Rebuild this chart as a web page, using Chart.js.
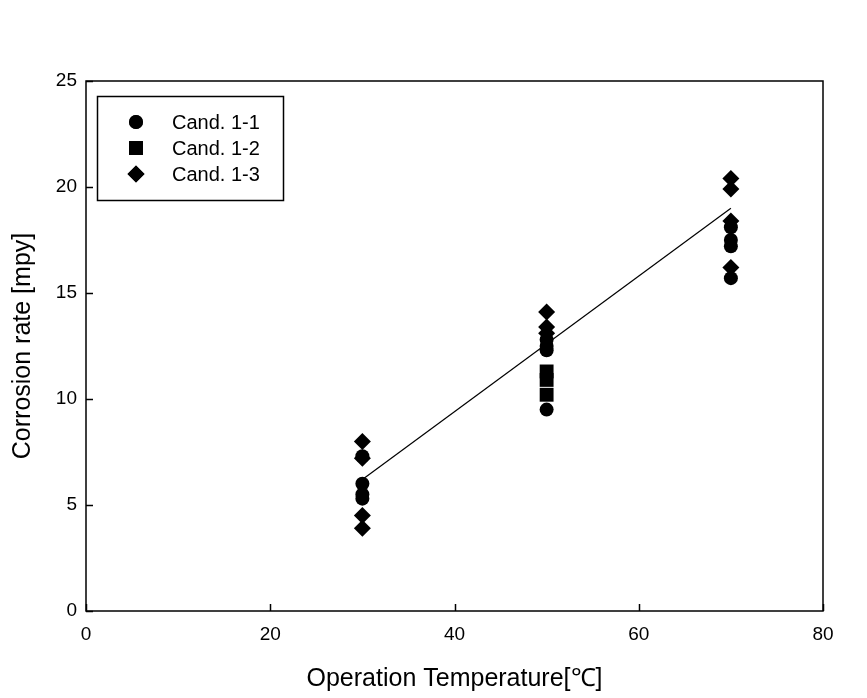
<!DOCTYPE html>
<html>
<head>
<meta charset="utf-8">
<script src="https://cdn.jsdelivr.net/npm/chart.js@4/dist/chart.umd.min.js"></script>
<style>
  html, body { margin: 0; padding: 0; background: #fff; }
  #wrap { width: 867px; height: 698px; position: relative; }
</style>
</head>
<body>
<div id="wrap"><canvas id="corrosionChart"></canvas></div>
<script>
// Corrosion rate vs. operation temperature
const xTicks = [0, 20, 40, 60, 80];
const yTicks = [0, 5, 10, 15, 20, 25];

const cand11Temp = [30, 30, 30, 30, 50, 50, 50, 50, 70, 70, 70, 70];
const cand11Rate = [7.3, 6.0, 5.5, 5.3, 12.8, 12.5, 12.3, 9.5, 18.1, 17.5, 17.2, 15.7];

const cand12Temp = [50, 50, 50];
const cand12Rate = [11.3, 10.9, 10.2];

const cand13Temp = [30, 30, 30, 30, 50, 50, 50, 70, 70, 70, 70];
const cand13Rate = [8.0, 7.2, 4.5, 3.9, 14.1, 13.4, 13.1, 20.4, 19.9, 18.4, 16.2];

const fitTemp = [30, 70];
const fitRate = [6.2, 19.0];

const legendLabels = ['Cand. 1-1', 'Cand. 1-2', 'Cand. 1-3'];

const FONT = '"Liberation Sans", Arial, sans-serif';

function toPoints(xs, ys) {
    return xs.map((x, i) => ({ x: x, y: ys[i] }));
}

const markerStyles = [
    { pointStyle: 'circle', radius: 7 },
    { pointStyle: 'rect', radius: 9.8 },
    { pointStyle: 'rectRot', radius: 8.5 }
];

// frame, inward ticks and the boxed legend
const framePlugin = {
    id: 'frame',
    afterDraw(chart) {
        const ctx = chart.ctx;
        const area = chart.chartArea;
        const xs = chart.scales.x;
        const ys = chart.scales.y;
        ctx.save();
        ctx.strokeStyle = '#000';
        ctx.lineWidth = 1.5;
        ctx.strokeRect(area.left, area.top, area.right - area.left, area.bottom - area.top);

        ctx.beginPath();
        xTicks.forEach(v => {
            const px = Math.round(xs.getPixelForValue(v)) + 0.5;
            ctx.moveTo(px, area.bottom);
            ctx.lineTo(px, area.bottom - 7);
        });
        yTicks.forEach(v => {
            const py = Math.round(ys.getPixelForValue(v)) + 0.5;
            ctx.moveTo(area.left, py);
            ctx.lineTo(area.left + 7, py);
        });
        ctx.stroke();

        // legend box
        ctx.lineWidth = 1.5;
        ctx.strokeRect(97.5, 96.5, 186, 104);
        ctx.font = '20px ' + FONT;
        ctx.fillStyle = '#000';
        ctx.textBaseline = 'middle';
        legendLabels.forEach((label, i) => {
            const y = 122 + i * 26;
            Chart.helpers.drawPoint(ctx, {
                pointStyle: markerStyles[i].pointStyle,
                radius: markerStyles[i].radius,
                rotation: 0,
                borderWidth: 0
            }, 136, y);
            ctx.fill();
            ctx.fillText(label, 172, y + 1);
        });
        ctx.restore();
    }
};

function scatterSet(label, xs, ys, i) {
    return {
        label: label,
        data: toPoints(xs, ys),
        pointStyle: markerStyles[i].pointStyle,
        pointRadius: markerStyles[i].radius,
        pointHoverRadius: markerStyles[i].radius,
        backgroundColor: '#000',
        borderColor: '#000',
        borderWidth: 0,
        showLine: false
    };
}

new Chart(document.getElementById('corrosionChart'), {
    type: 'scatter',
    data: {
        datasets: [
            {
                label: 'fit',
                data: toPoints(fitTemp, fitRate),
                showLine: true,
                borderColor: '#000',
                borderWidth: 1.2,
                pointRadius: 0,
                fill: false
            },
            scatterSet(legendLabels[0], cand11Temp, cand11Rate, 0),
            scatterSet(legendLabels[1], cand12Temp, cand12Rate, 1),
            scatterSet(legendLabels[2], cand13Temp, cand13Rate, 2)
        ]
    },
    options: {
        responsive: true,
        maintainAspectRatio: false,
        animation: false,
        layout: { padding: { top: 81, right: 44, left: 0, bottom: 0 } },
        plugins: {
            legend: { display: false },
            tooltip: { enabled: false }
        },
        scales: {
            x: {
                type: 'linear',
                min: 0,
                max: 80,
                afterBuildTicks(scale) { scale.ticks = xTicks.map(v => ({ value: v })); },
                afterFit(scale) { scale.height = 87; },
                grid: { display: false, drawTicks: false },
                border: { display: false },
                ticks: {
                    padding: 12,
                    color: '#000',
                    font: { family: FONT, size: 19 },
                    maxRotation: 0
                },
                title: {
                    display: true,
                    text: 'Operation Temperature[℃]',
                    color: '#000',
                    font: { family: FONT, size: 25 },
                    padding: { top: 0, bottom: 4 }
                }
            },
            y: {
                type: 'linear',
                min: 0,
                max: 25,
                afterBuildTicks(scale) { scale.ticks = yTicks.map(v => ({ value: v })); },
                afterFit(scale) { scale.width = 86; },
                grid: { display: false, drawTicks: false },
                border: { display: false },
                ticks: {
                    padding: 9,
                    color: '#000',
                    font: { family: FONT, size: 19 }
                },
                title: {
                    display: true,
                    text: 'Corrosion rate [mpy]',
                    color: '#000',
                    font: { family: FONT, size: 25 },
                    padding: { top: 8, bottom: 0 }
                }
            }
        }
    },
    plugins: [framePlugin]
});
</script>
</body>
</html>
